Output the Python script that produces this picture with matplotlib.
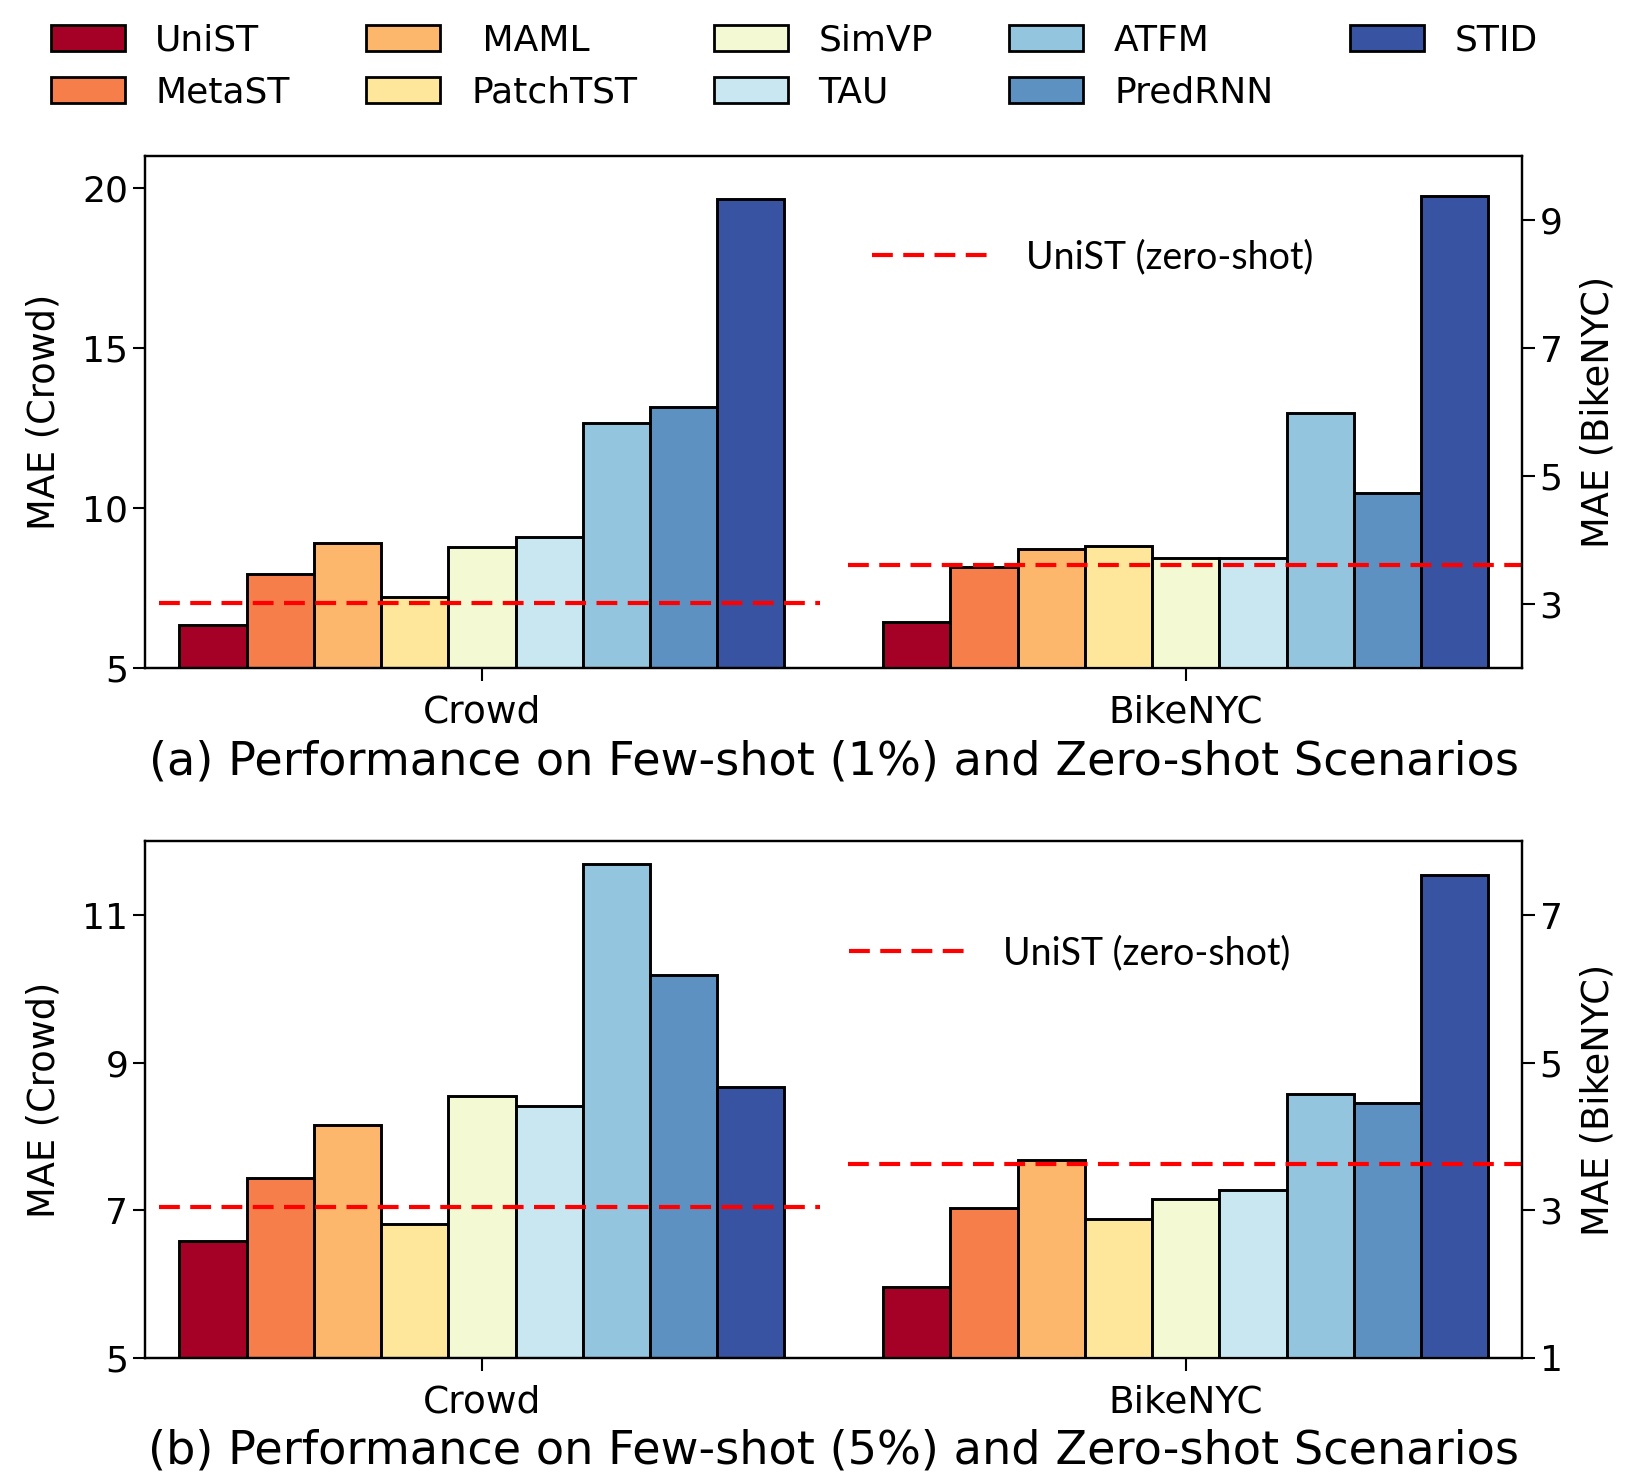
import numpy as np
import matplotlib
matplotlib.use("Agg")
import matplotlib.pyplot as plt
from matplotlib.patches import Patch
from matplotlib.lines import Line2D

# =====================================================
# DATA
# =====================================================
methods = ["UniST", "MetaST", " MAML", "PatchTST", "SimVP",
           "TAU", "ATFM", "PredRNN", "STID"]
colors = ["#a50026", "#f67e4b", "#fdb76c", "#fee79b", "#f3f9d3",
          "#c9e7f1", "#94c5de", "#5c91c2", "#3953a3"]
datasets = ["Crowd", "BikeNYC"]

crowd_1pct = [6.36, 7.95, 8.91, 7.22, 8.79, 9.10, 12.66, 13.17, 19.65]
bike_1pct = [2.72, 3.59, 3.86, 3.91, 3.72, 3.73, 5.98, 4.74, 9.38]
zero_crowd_1pct = 7.04
zero_bike_1pct = 3.62

crowd_5pct = [6.58, 7.44, 8.16, 6.81, 8.55, 8.41, 11.70, 10.19, 8.67]
bike_5pct = [1.96, 3.03, 3.68, 2.88, 3.16, 3.27, 4.58, 4.46, 7.55]
zero_crowd_5pct = 7.05
zero_bike_5pct = 3.63

titles = ["(a) Performance on Few-shot (1%) and Zero-shot Scenarios",
          "(b) Performance on Few-shot (5%) and Zero-shot Scenarios"]

# =====================================================
# STYLE
# =====================================================
plt.rcParams["font.family"] = ["DejaVu Sans"]
plt.rcParams["axes.linewidth"] = 1.6

width = 0.0955
offsets = (np.arange(len(methods)) - 4) * width
dash = (0, (5, 2.5))


def draw_panel(ax, crowd, bike, zc, zb, ylim_l, ylim_r, yt_l, yt_r, title, leg_xy):
    ax2 = ax.twinx()
    # crowd bars on left axis
    ax.bar(0 + offsets, crowd, width, color=colors,
           edgecolor="black", linewidth=2.1)
    # bike bars on right axis
    ax2.bar(1 + offsets, bike, width, color=colors,
            edgecolor="black", linewidth=2.1)
    ax.axhline(zc, xmin=0.01, xmax=0.49, color="red",
               linestyle=dash, linewidth=3)
    ax2.axhline(zb, xmin=0.51, xmax=1.0, color="red",
                linestyle=dash, linewidth=3)

    ax.set_xlim(-0.478, 1.478)
    ax.set_ylim(*ylim_l)
    ax2.set_ylim(*ylim_r)
    ax.set_yticks(yt_l)
    ax2.set_yticks(yt_r)
    ax.set_xticks([0, 1])
    ax.set_xticklabels(datasets, fontsize=27)
    ax.tick_params(axis="y", labelsize=26, length=9, width=1.5)
    ax.tick_params(axis="x", length=9, width=1.5, pad=10)
    ax2.tick_params(axis="y", labelsize=26, length=9, width=1.5)
    ax.set_ylabel("MAE (Crowd)", fontsize=26.5, labelpad=14)
    ax2.set_ylabel("MAE (BikeNYC)", fontsize=26.5, labelpad=12)
    ax.set_xlabel(title, fontsize=33.3, labelpad=6)

    h = [Line2D([0], [0], color="red", linestyle=dash, linewidth=3)]
    ax2.legend(h, ["UniST (zero-shot)"], loc="center left",
               bbox_to_anchor=leg_xy, frameon=False, borderpad=0,
               borderaxespad=0, handlelength=3.3, handletextpad=0.8,
               prop={"family": "Lato", "size": 27})


fig = plt.figure(figsize=(16.44, 14.84), dpi=100)
ax_top = fig.add_axes([0.0885, 0.5496, 0.8374, 0.3454])
ax_bot = fig.add_axes([0.0885, 0.0850, 0.8374, 0.3480])

draw_panel(ax_top, crowd_1pct, bike_1pct, zero_crowd_1pct, zero_bike_1pct,
           (5, 21), (2, 10), [5, 10, 15, 20], [3, 5, 7, 9], titles[0],
           (0.528, 0.803))
draw_panel(ax_bot, crowd_5pct, bike_5pct, zero_crowd_5pct, zero_bike_5pct,
           (5, 12), (1, 8), [5, 7, 9, 11], [1, 3, 5, 7], titles[1],
           (0.511, 0.783))

# =====================================================
# TOP LEGEND
# =====================================================
handles = [Patch(facecolor=c, edgecolor="black", linewidth=2) for c in colors]
fig.legend(handles, methods, loc="center left",
           bbox_to_anchor=(0.0308, 0.9549), ncol=5, frameon=False,
           fontsize=26, borderpad=0, borderaxespad=0,
           handlelength=2.05, handleheight=0.72, handletextpad=0.85,
           columnspacing=2.12, labelspacing=0.5)

fig.savefig("out.png", dpi=100)
